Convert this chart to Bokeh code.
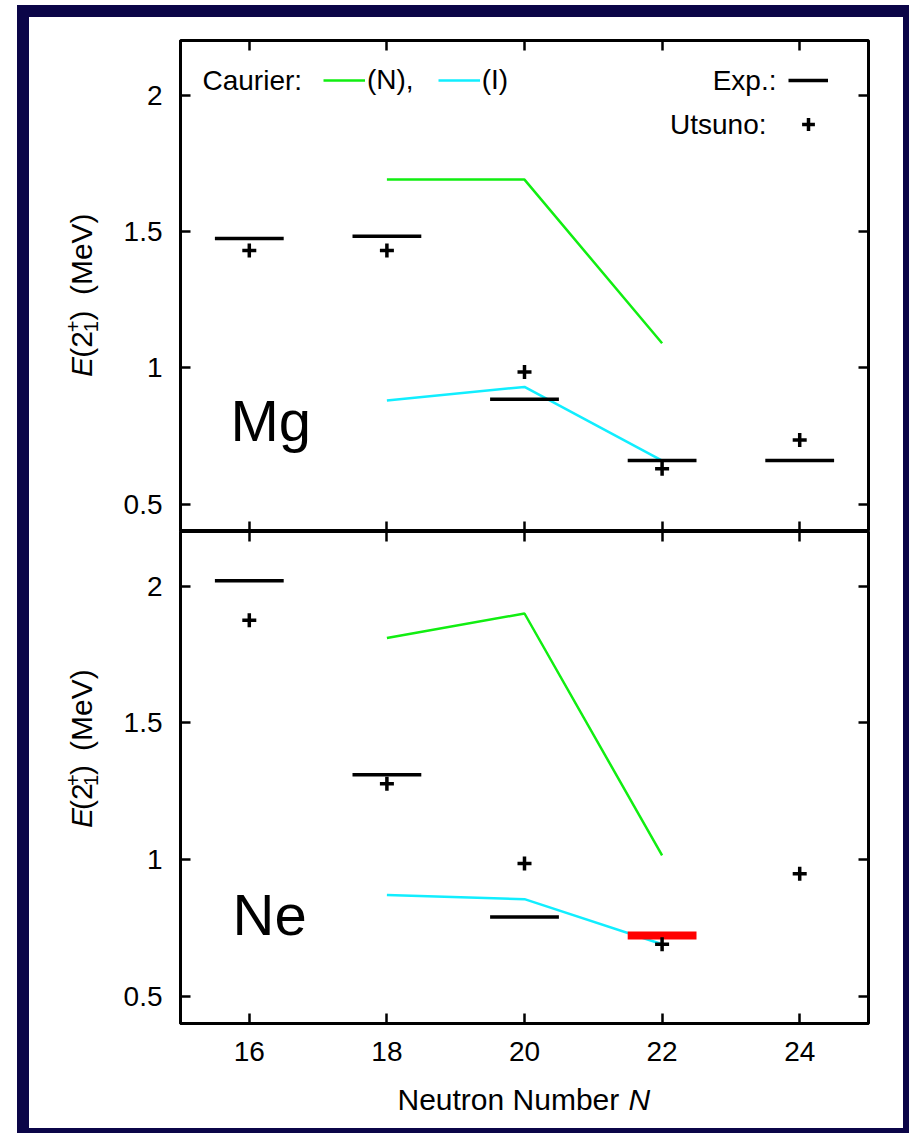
from bokeh.plotting import figure
from bokeh.models import (Range1d, LinearAxis, FixedTicker, Label, Legend, LegendItem,
                          CustomJSTickFormatter)
from bokeh.layouts import column, row
from bokeh.embed import file_html
from bokeh.resources import INLINE

# ---------------- data ----------------
X_TICKS = [16, 18, 20, 22, 24]
X_TICK_LABELS = ["16", "18", "20", "22", "24"]
Y_TICKS = [0.5, 1, 1.5, 2]
Y_TICK_LABELS = ["0.5", "1", "1.5", "2"]

# Mg
MG_EXP_N = [16, 18, 20, 22, 24]
MG_EXP_E = [1.474, 1.482, 0.885, 0.660, 0.660]
MG_UTS_N = [16, 18, 20, 22, 24]
MG_UTS_E = [1.43, 1.43, 0.985, 0.63, 0.735]
MG_CAU_N = [18, 20, 22]
MG_CAU_NE = [1.69, 1.69, 1.09]     # Caurier (N)
MG_CAU_IE = [0.88, 0.93, 0.66]     # Caurier (I)

# Ne
NE_EXP_N = [16, 18, 20]
NE_EXP_E = [2.02, 1.31, 0.79]
NE_NEW_N = [22]
NE_NEW_E = [0.722]
NE_UTS_N = [16, 18, 20, 22, 24]
NE_UTS_E = [1.875, 1.277, 0.985, 0.69, 0.948]
NE_CAU_N = [18, 20, 22]
NE_CAU_NE = [1.81, 1.90, 1.015]
NE_CAU_IE = [0.87, 0.855, 0.69]

# ---------------- style / layout ----------------
FONT = "Liberation Sans"
FS = "28px"
GREEN = "#11ee11"
CYAN = "#11eeff"
NAVY = "#0b0548"
XR = (15, 25)
YR = (0.4, 2.2)
PAGE_X0 = 29          # page x of the content's left edge
TOTAL_W = 874
YL_W = 85             # width of the y-label strip
CW = TOTAL_W - YL_W   # plot canvas width
BL, BR = 66, 35       # plot left/right borders
FRAME_W = CW - BL - BR
FRAME_X = PAGE_X0 + YL_W + BL   # page x of the frame's left edge (180)


def plain_fig(w, h):
    f = figure(width=w, height=h, x_range=Range1d(0, w), y_range=Range1d(0, h),
               output_backend="svg", toolbar_location=None,
               x_axis_location=None, y_axis_location=None, min_border=0)
    f.grid.grid_line_color = None
    f.outline_line_color = None
    f.background_fill_color = "white"
    f.border_fill_color = "white"
    return f


def make_panel(h, top, bottom, xlabels):
    p = figure(width=CW, height=h, x_range=Range1d(*XR), y_range=Range1d(*YR),
               output_backend="svg", toolbar_location=None,
               x_axis_location=None, y_axis_location=None,
               min_border_left=BL, min_border_right=BR,
               min_border_top=top, min_border_bottom=bottom)
    p.grid.grid_line_color = None
    p.outline_line_color = "black"
    p.outline_line_width = 3
    p.background_fill_color = "white"
    p.border_fill_color = "white"

    def axis(place, ticks, labels, show, fixed=None):
        ax = LinearAxis(ticker=FixedTicker(ticks=ticks))
        ax.major_tick_in = 10
        ax.major_tick_out = 0
        ax.minor_tick_line_color = None
        ax.axis_line_width = 3
        ax.major_tick_line_width = 2.5
        ax.major_label_text_font = FONT
        ax.major_label_text_font_size = FS
        if show:
            ax.major_label_overrides = dict(zip(ticks, labels))
            ax.major_label_text_color = "black"
            ax.major_label_standoff = 18
        else:
            # mirrored tick marks only: no tick labels, no layout space
            ax.formatter = CustomJSTickFormatter(code="return ''")
            ax.major_label_text_color = None
            ax.major_label_standoff = 0
            ax.fixed_location = fixed
        p.add_layout(ax, place)
        return ax

    axis("left", Y_TICKS, Y_TICK_LABELS, True)
    axis("right", Y_TICKS, Y_TICK_LABELS, False, XR[1])
    axis("above", X_TICKS, X_TICK_LABELS, False, YR[1])
    if xlabels:
        axis("below", X_TICKS, X_TICK_LABELS, True)
    else:
        axis("below", X_TICKS, X_TICK_LABELS, False, YR[0])
    return p


def to_data(px, py, frame_top, frame_h):
    x = XR[0] + (px - FRAME_X) * (XR[1] - XR[0]) / FRAME_W
    y = YR[1] - (py - frame_top) * (YR[1] - YR[0]) / frame_h
    return x, y


def text(p, t, px, py, frame_top, frame_h, align="left", size=FS, style="normal"):
    # (px, py): page position of the text's left/right end and its vertical middle
    x, y = to_data(px, py, frame_top, frame_h)
    p.add_layout(Label(x=x, y=y, text=t, text_font=FONT, text_font_size=size,
                       text_font_style=style, text_align=align,
                       text_baseline="middle", text_color="black"))


def ptext(f, t, px, py, page_x0, page_bottom, size=FS, style="normal", angle=0,
          align="left"):
    # text in a plain figure whose data units are its own pixels
    f.add_layout(Label(x=px - page_x0, y=page_bottom - py, text=t, angle=angle,
                       angle_units="deg", text_font=FONT, text_font_size=size,
                       text_font_style=style, text_align=align,
                       text_baseline="middle", text_color="black"))


def ylabel_fig(h, page_bottom, center_y):
    f = plain_fig(YL_W, h)
    fsz = 30
    ssz = 20
    # advance widths (em of the main font): E, "(2", scripts, ")", gap, "(MeV)"
    em = [0.667, 0.889, 0.41, 0.333, 0.556, 2.722]
    L = sum(em) * fsz
    y0 = center_y + L / 2
    pos = [y0]
    for w in em[:-1]:
        pos.append(pos[-1] - w * fsz)
    mid = 81       # middle of the main line of text (page x)
    pieces = [
        ("E", mid, pos[0], fsz, "italic"),
        ("(2", mid, pos[1], fsz, "normal"),
        ("+", mid - 9, pos[2], ssz, "normal"),
        ("1", mid + 9, pos[2], ssz, "normal"),
        (")", mid, pos[3], fsz, "normal"),
        ("(MeV)", mid, pos[5], fsz, "normal"),
    ]
    for t, px, py, size, style in pieces:
        ptext(f, t, px, py, PAGE_X0, page_bottom, size=f"{size}px", style=style, angle=90)
    return f


# ---------------- top panel: Mg ----------------
T_TOP, T_H = 40, 491
TOP_CANVAS_H = 514          # page y 17..531
p1 = make_panel(TOP_CANVAS_H, 23, 0, False)
gN = p1.line(MG_CAU_N, MG_CAU_NE, line_color=GREEN, line_width=2.5)
gI = p1.line(MG_CAU_N, MG_CAU_IE, line_color=CYAN, line_width=2.5)
half = 0.5
exp_r = p1.segment(x0=[n - half for n in MG_EXP_N], x1=[n + half for n in MG_EXP_N],
                   y0=MG_EXP_E, y1=MG_EXP_E, line_color="black", line_width=3.5)
uts_r = p1.scatter(MG_UTS_N, MG_UTS_E, marker="cross", size=14, line_width=3.5,
                   line_color="black")

leg_kw = dict(padding=0, margin=0, border_line_color=None, background_fill_alpha=0,
              label_text_font=FONT, label_text_font_size=FS, label_text_color="black",
              glyph_height=32, label_height=32, label_standoff=2)
leg1 = Legend(items=[LegendItem(label="(N),", renderers=[gN]),
                     LegendItem(label="(I)", renderers=[gI])],
              orientation="horizontal", location=(143, 435),
              glyph_width=42, spacing=24, **leg_kw)
leg2 = Legend(items=[LegendItem(label=" ", renderers=[exp_r]),
                     LegendItem(label=" ", renderers=[uts_r])],
              orientation="vertical", location=(608, 391),
              glyph_width=40, spacing=12, **leg_kw)
p1.add_layout(leg1)
p1.add_layout(leg2)
text(p1, "Caurier:", 202, 80, T_TOP, T_H)
text(p1, "Exp.:", 776, 80, T_TOP, T_H, align="right")
text(p1, "Utsuno:", 766, 124, T_TOP, T_H, align="right")
text(p1, "Mg", 230, 420, T_TOP, T_H, size="58px")
yl1 = ylabel_fig(TOP_CANVAS_H, 531, 285.5)

# ---------------- bottom panel: Ne ----------------
B_TOP, B_H = 531, 492
BOT_CANVAS_H = 547          # page y 531..1078
p2 = make_panel(BOT_CANVAS_H, 0, BOT_CANVAS_H - B_H, True)
p2.line(NE_CAU_N, NE_CAU_NE, line_color=GREEN, line_width=2.5)
p2.line(NE_CAU_N, NE_CAU_IE, line_color=CYAN, line_width=2.5)
p2.segment(x0=[n - half for n in NE_EXP_N], x1=[n + half for n in NE_EXP_N],
           y0=NE_EXP_E, y1=NE_EXP_E, line_color="black", line_width=3.5)
p2.segment(x0=[n - half for n in NE_NEW_N], x1=[n + half for n in NE_NEW_N],
           y0=NE_NEW_E, y1=NE_NEW_E, line_color="#ff0000", line_width=8)
p2.scatter(NE_UTS_N, NE_UTS_E, marker="cross", size=14, line_width=3.5, line_color="black")
text(p2, "Ne", 232, 914, B_TOP, B_H, size="58px")
yl2 = ylabel_fig(BOT_CANVAS_H, 1078, 777)

# ---------------- x-axis title strip ----------------
XL_H = 50                   # page y 1078..1128
xl = plain_fig(TOTAL_W, XL_H)
ptext(xl, "Neutron Number", 397, 1099, PAGE_X0, 1128, size="30px")
ptext(xl, "N", 628, 1099, PAGE_X0, 1128, size="30px", style="italic")

layout = column(row(yl1, p1, spacing=0), row(yl2, p2, spacing=0), xl, spacing=0,
                margin=(5, 0, 0, 17),
                styles={"border-style": "solid", "border-color": NAVY,
                        "border-width": "12px 6px 5px 12px",
                        "background-color": "white"})

open("out.html", "w").write(file_html(layout, INLINE))
